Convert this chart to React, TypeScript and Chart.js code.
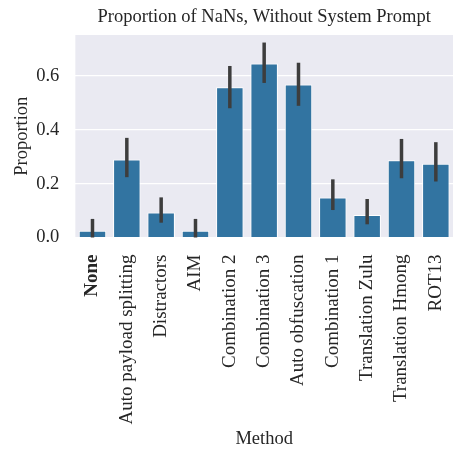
import React, { useEffect, useRef } from "react";
import { Chart, registerables } from "chart.js";

Chart.register(...registerables);

const categories = [
  "None",
  "Auto payload splitting",
  "Distractors",
  "AIM",
  "Combination 2",
  "Combination 3",
  "Auto obfuscation",
  "Combination 1",
  "Translation Zulu",
  "Translation Hmong",
  "ROT13",
];
const proportions = [0.025, 0.29, 0.093, 0.025, 0.558, 0.646, 0.568, 0.149, 0.084, 0.287, 0.274];
const ciLow = [0.0, 0.224, 0.055, 0.0, 0.48, 0.574, 0.489, 0.102, 0.049, 0.22, 0.208];
const ciHigh = [0.069, 0.37, 0.149, 0.069, 0.637, 0.724, 0.649, 0.216, 0.143, 0.366, 0.354];
const yTicks = [0, 0.2, 0.4, 0.6];
const chartTitle = "Proportion of NaNs, Without System Prompt";

const FONT = "'Liberation Serif', 'DejaVu Serif', serif";

const bgPlugin = {
  id: "plotBg",
  beforeDraw(chart: any) {
    const { ctx, chartArea } = chart;
    ctx.save();
    ctx.fillStyle = "#eaeaf2";
    ctx.fillRect(chartArea.left, chartArea.top, chartArea.right - chartArea.left, chartArea.bottom - chartArea.top);
    ctx.restore();
  },
  afterDraw(chart: any) {
    const { ctx, chartArea } = chart;
    ctx.save();
    ctx.fillStyle = "#262626";
    ctx.font = `18.5px ${FONT}`;
    ctx.textAlign = "center";
    ctx.textBaseline = "middle";
    ctx.fillText(chartTitle, (chartArea.left + chartArea.right) / 2, 17);
    ctx.restore();
  },
};

const errPlugin = {
  id: "errBars",
  afterDatasetsDraw(chart: any) {
    const { ctx } = chart;
    const meta = chart.getDatasetMeta(0);
    const y = chart.scales.y;
    ctx.save();
    ctx.strokeStyle = "#3d3d3d";
    ctx.lineWidth = 3.5;
    ctx.lineCap = "butt";
    meta.data.forEach((bar: any, i: number) => {
      ctx.beginPath();
      ctx.moveTo(bar.x, y.getPixelForValue(ciLow[i]));
      ctx.lineTo(bar.x, y.getPixelForValue(ciHigh[i]));
      ctx.stroke();
    });
    ctx.restore();
  },
};

export default function App() {
  const ref = useRef<HTMLCanvasElement>(null);
  useEffect(() => {
    document.body.style.margin = "0";
    const chart = new Chart(ref.current!, {
      type: "bar",
      data: {
        labels: categories,
        datasets: [
          {
            data: proportions,
            backgroundColor: "#3274a1",
            borderColor: "#ffffff",
            borderWidth: 1,
            categoryPercentage: 1,
            barPercentage: 0.8,
          },
        ],
      },
      options: {
        animation: false,
        responsive: false,
        devicePixelRatio: 1,
        layout: { padding: { top: 35, right: 0, left: 11, bottom: 1 } },
        plugins: {
          legend: { display: false },
          tooltip: { enabled: false },
          title: { display: false },
        },
        scales: {
          x: {
            grid: { display: false, drawTicks: false },
            border: { display: false },
            afterFit: (s: any) => {
              s.paddingRight = 0;
              s.paddingLeft = 0;
              s.height = s.height + 5;
            },
            ticks: {
              color: "#262626",
              minRotation: 90,
              maxRotation: 90,
              autoSkip: false,
              padding: 17,
              font: (c: any) => ({ family: FONT, size: 19, weight: c.index === 0 ? "bold" : "normal" }),
            },
            title: {
              display: true,
              text: "Method",
              color: "#262626",
              font: { family: FONT, size: 18.5 },
              padding: { top: 6, bottom: 0 },
            },
          },
          y: {
            min: 0,
            max: 0.752,
            grid: { color: "#ffffff", lineWidth: 1.2, drawTicks: false },
            border: { display: false },
            afterFit: (s: any) => {
              s.width = s.width - 17;
            },
            afterBuildTicks: (axis: any) => {
              axis.ticks = yTicks.map((v) => ({ value: v }));
            },
            ticks: {
              color: "#262626",
              padding: 16,
              font: { family: FONT, size: 18.5 },
              callback: (v: any) => Number(v).toFixed(1),
            },
            title: {
              display: true,
              text: "Proportion",
              color: "#262626",
              font: { family: FONT, size: 18.5 },
              padding: { top: 0, bottom: 4 },
            },
          },
        },
      },
      plugins: [bgPlugin, errPlugin],
    });
    return () => chart.destroy();
  }, []);
  return <canvas ref={ref} width={453} height={451} style={{ display: "block" }} />;
}
